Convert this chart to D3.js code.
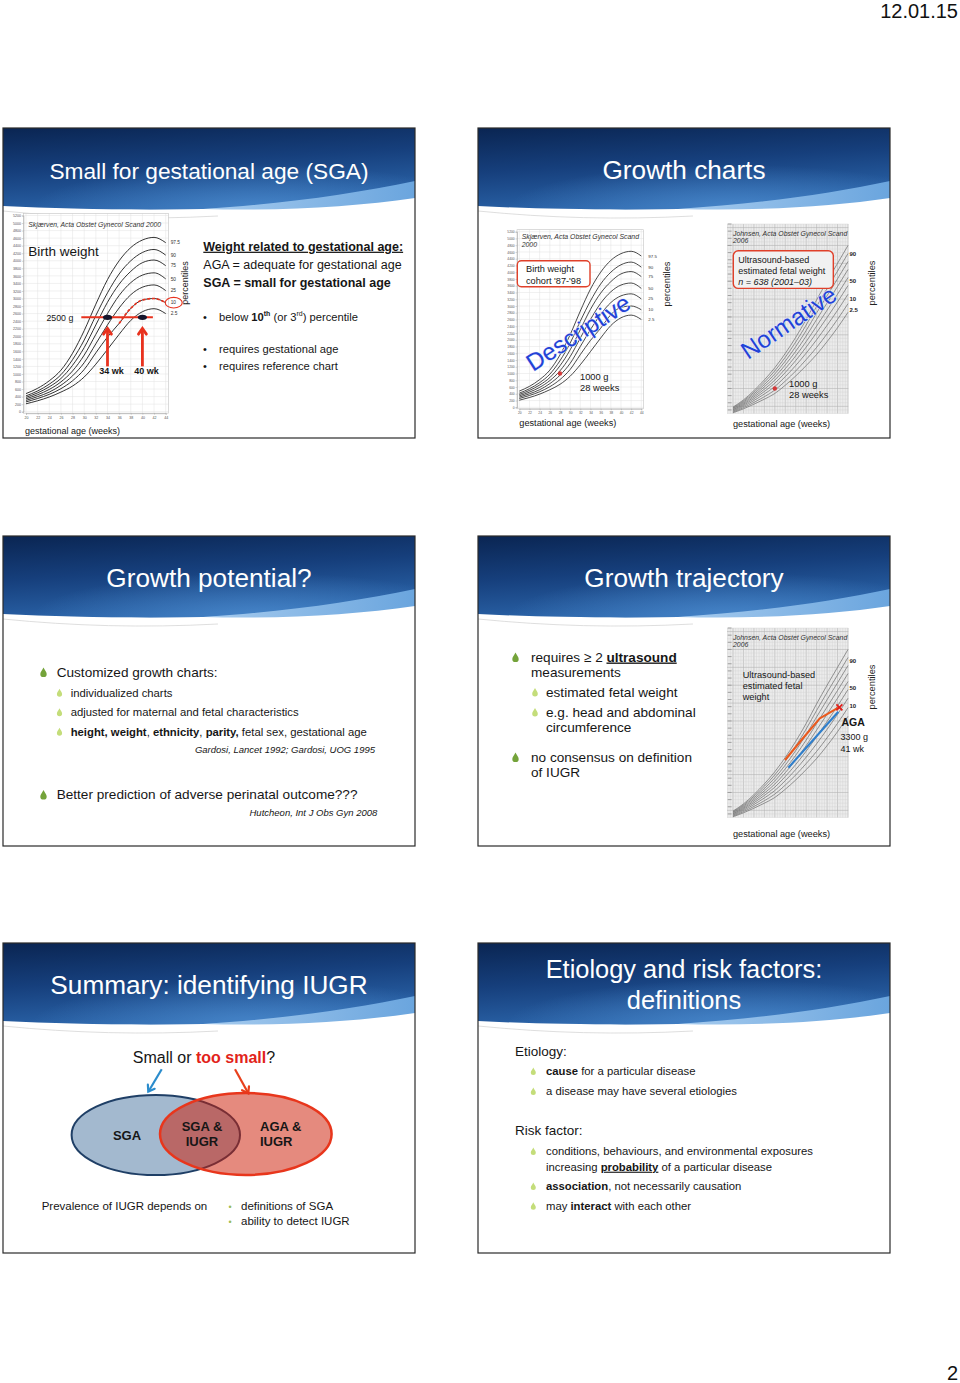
<!DOCTYPE html>
<html><head><meta charset="utf-8">
<script src="https://cdn.jsdelivr.net/npm/d3@7"></script>
<style>
html,body{margin:0;padding:0;background:#fff;}
svg{display:block;font-family:"Liberation Sans",Arial,sans-serif;}
text{white-space:pre;}
</style></head><body>
<svg id="page" width="960" height="1383"></svg>
<script>
// ---------------- DATA ----------------
const slideTitles = [["Small for gestational age (SGA)"],["Growth charts"],["Growth potential?"],["Growth trajectory"],["Summary: identifying IUGR"],["Etiology and risk factors:","definitions"]];
const titleSizes = [22.7, 26.2, 26.2, 26.2, 26.2, 25.4];

// Skjaerven birth-weight percentiles (g) by gestational week
const bwWeeks = [20,22,24,26,28,30,32,34,36,38,40,42,44];
const bwP975 = [480,620,820,1100,1550,2150,2850,3500,4000,4350,4550,4620,4480];
const bwP90  = [420,550,730,980,1380,1900,2550,3150,3650,4000,4220,4300,4150];
const bwP75  = [380,500,660,880,1230,1700,2300,2900,3380,3720,3950,4020,3870];
const bwP50  = [340,450,590,790,1080,1500,2050,2600,3080,3420,3620,3680,3520];
const bwP25  = [300,400,520,700,950,1300,1800,2300,2750,3100,3300,3360,3210];
const bwP10  = [260,350,460,610,820,1120,1560,1980,2340,2740,2960,3000,2890];
const bwP025 = [210,290,390,520,680,920,1260,1650,2050,2420,2650,2730,2600];
const bwPercentileLabels = ["97.5","90","75","50","25","10","2.5"];
const bwYTicks = [0,200,400,600,800,1000,1200,1400,1600,1800,2000,2200,2400,2600,2800,3000,3200,3400,3600,3800,4000,4200,4400,4600,4800,5000,5200];
const bwXTicks = [20,22,24,26,28,30,32,34,36,38,40,42,44];
const sgaWeight = 2500;
const sgaWeeks = [34, 40];
const sgaLineWeeks = [29.5, 41.8];
const p10HighlightFrom = 36;

// Johnsen ultrasound estimated fetal weight percentiles (g)
const efwWeeks = [20,22,24,26,28,30,32,34,36,38,40,42];
const efwP975 = [480,680,940,1240,1580,1980,2430,2930,3480,4000,4500,5000];
const efwP95  = [461,650,894,1175,1494,1873,2300,2775,3296,3797,4284,4776];
const efwP90  = [442,620,849,1110,1407,1766,2171,2620,3113,3594,4068,4551];
const efwP75  = [422,590,803,1046,1321,1660,2041,2466,2929,3392,3852,4327];
const efwP50  = [403,560,758,981,1234,1553,1912,2311,2746,3189,3636,4102];
const efwP25  = [384,530,712,916,1148,1446,1782,2156,2562,2986,3420,3878];
const efwP10  = [363,498,663,846,1054,1330,1642,1988,2363,2766,3186,3635];
const efwP5   = [341,463,609,770,954,1206,1490,1808,2149,2530,2934,3373];
const efwP025 = [320,430,560,700,860,1090,1350,1640,1950,2310,2700,3130];
const efwLabelText = ["90","50","10","2.5"];
const efwLabelWeight = [4775,4000,3500,3190];
const exampleWeek = 28, exampleWeight = 1000;

// growth trajectories (slide 4)
const trajOrangeWeeks = [29.95,33.1,36.6,40.15];
const trajOrangeEFW   = [1908,2467,3074,3371];
const trajBlueWeeks   = [30.6,40.15];
const trajBlueEFW     = [1693,3259];
const agaWeek = 40.35, agaWeight = 3382;

// ---------------- SETUP ----------------
const svg = d3.select("#page");
const defs = svg.append("defs");
const lg = defs.append("linearGradient").attr("id","hdrGrad").attr("x1","0").attr("y1","0").attr("x2","0.3").attr("y2","1");
lg.append("stop").attr("offset","0").attr("stop-color","#0a2552");
lg.append("stop").attr("offset","0.5").attr("stop-color","#163f7c");
lg.append("stop").attr("offset","1").attr("stop-color","#2a63a8");
const rg = defs.append("radialGradient").attr("id","hdrGlow").attr("cx","0.62").attr("cy","1").attr("r","0.55");
rg.append("stop").attr("offset","0").attr("stop-color","#4f8fd2").attr("stop-opacity",0.75);
rg.append("stop").attr("offset","1").attr("stop-color","#4f8fd2").attr("stop-opacity",0);
const sg = defs.append("linearGradient").attr("id","swoosh").attr("x1","1").attr("y1","0").attr("x2","0").attr("y2","0");
sg.append("stop").attr("offset","0").attr("stop-color","#6aa5de");
sg.append("stop").attr("offset","1").attr("stop-color","#a6cbee");

const slidePos = [[3,128],[478,128],[3,536],[478,536],[3,943],[478,943]];
const W = 412, H = 310;

slidePos.forEach(([sx,sy],i) => {
  const g = svg.append("g").attr("transform",`translate(${sx},${sy})`);
  g.append("rect").attr("width",W).attr("height",H).attr("fill","#fff");
  const hdr = `M0,0H${W}V57C350,70 280,79 200,81C130,82 60,81 0,78Z`;
  g.append("path").attr("d",hdr).attr("fill","url(#hdrGrad)");
  g.append("path").attr("d",hdr).attr("fill","url(#hdrGlow)");
  g.append("path").attr("d",`M${W},53C350,66 280,76 200,81C280,83 350,79 ${W},70Z`).attr("fill","url(#swoosh)");
  g.append("path").attr("d","M0,83C70,90 140,92 215,88").attr("fill","none").attr("stroke","#d6d6d6").attr("stroke-width",0.8);
  const lines = slideTitles[i];
  const base = lines.length === 1 ? [51] : [35, 66];
  lines.forEach((t,j) => g.append("text").attr("x",W/2).attr("y",base[j]).attr("text-anchor","middle")
    .attr("font-size",titleSizes[i]).attr("fill","#ffffff").text(t));
});

// ---------------- HELPERS ----------------
function rich(x, y, parts, size, o = {}) {
  const t = svg.append("text").attr("x", x).attr("y", y).attr("font-size", size).attr("fill", o.fill || "#161616");
  if (o.anchor) t.attr("text-anchor", o.anchor);
  if (o.italic) t.attr("font-style", "italic");
  if (o.weight) t.attr("font-weight", o.weight);
  let shifted = 0;
  parts.forEach(p => {
    const str = typeof p === "string" ? p : p[0];
    const st = typeof p === "string" ? "" : p[1];
    const ts = t.append("tspan").text(str);
    let want = 0;
    if (st.includes("b")) ts.attr("font-weight", "bold");
    if (st.includes("u")) ts.attr("text-decoration", "underline");
    if (st.includes("r")) ts.attr("fill", "#e2231a");
    if (st.includes("i")) ts.attr("font-style", "italic");
    if (st.includes("s")) { ts.attr("font-size", size * 0.62); want = -size * 0.38; }
    if (want !== shifted) { ts.attr("dy", want - shifted); shifted = want; }
  });
  return t;
}
function drop(x, cy, r, color) {
  const y = cy + r * 0.2;
  svg.append("path").attr("d",
    `M${x},${y-r*1.6}C${x+r*0.35},${y-r*0.8} ${x+r},${y-r*0.2} ${x+r},${y+r*0.4}A${r},${r} 0 0 1 ${x-r},${y+r*0.4}C${x-r},${y-r*0.2} ${x-r*0.35},${y-r*0.8} ${x},${y-r*1.6}Z`)
    .attr("fill", color);
}
function arrow(x1, y1, x2, y2, color, w, head) {
  const a = Math.atan2(y2 - y1, x2 - x1);
  svg.append("line").attr("x1",x1).attr("y1",y1).attr("x2",x2).attr("y2",y2).attr("stroke",color).attr("stroke-width",w);
  const p1 = [x2 - head*Math.cos(a - 0.6), y2 - head*Math.sin(a - 0.6)];
  const p2 = [x2 - head*Math.cos(a + 0.6), y2 - head*Math.sin(a + 0.6)];
  svg.append("polyline").attr("points",`${p1} ${x2},${y2} ${p2}`).attr("fill","none").attr("stroke",color)
    .attr("stroke-width",w).attr("stroke-linejoin","miter").attr("stroke-linecap","round");
}
function rotLabel(x, cy, txt, size) {
  svg.append("text").attr("transform",`translate(${x},${cy}) rotate(-90)`).attr("text-anchor","middle")
    .attr("dy","0.35em").attr("font-size",size).attr("fill","#222").text(txt);
}
function styleAxis(a, fs) {
  a.attr("font-family","Liberation Sans, Arial, sans-serif").attr("font-size",fs);
  a.selectAll("text").attr("fill","#555");
  a.select(".domain").attr("stroke","#999").attr("stroke-width",0.5);
  a.selectAll(".tick line").attr("stroke","#999").attr("stroke-width",0.4);
}

const bwSeries = [bwP975,bwP90,bwP75,bwP50,bwP25,bwP10,bwP025];
function drawBirthWeight(o) {
  const x = d3.scaleLinear().domain([20,44]).range([o.xl,o.xr]);
  const y = d3.scaleLinear().domain([0,5200]).range([o.yb,o.yt]);
  const g = svg.append("g");
  const bx0 = x(19.55), bx1 = x(44.45), by0 = y(5200)-2, by1 = y(0)+1.5;
  g.append("rect").attr("x",bx0).attr("y",by0).attr("width",bx1-bx0).attr("height",by1-by0).attr("fill","#fff");
  g.append("g").selectAll("line").data(bwYTicks).join("line")
    .attr("x1",bx0).attr("x2",bx1).attr("y1",d=>y(d)).attr("y2",d=>y(d)).attr("stroke","#e2e2e2").attr("stroke-width",0.5);
  g.append("g").selectAll("line").data(bwXTicks).join("line")
    .attr("y1",by0).attr("y2",by1).attr("x1",d=>x(d)).attr("x2",d=>x(d)).attr("stroke","#e2e2e2").attr("stroke-width",0.5);
  g.append("rect").attr("x",bx0).attr("y",by0).attr("width",bx1-bx0).attr("height",by1-by0).attr("fill","none").attr("stroke","#c4c4c4").attr("stroke-width",0.6);
  const ay = g.append("g").attr("transform",`translate(${bx0},0)`)
    .call(d3.axisLeft(y).tickValues(bwYTicks).tickFormat(d3.format("d")).tickSize(1.5).tickPadding(0.8));
  const ax = g.append("g").attr("transform",`translate(0,${by1})`)
    .call(d3.axisBottom(x).tickValues(bwXTicks).tickFormat(d3.format("d")).tickSize(1.5).tickPadding(1.5));
  styleAxis(ay, o.tick); styleAxis(ax, o.tick);
  const line = d3.line().x((d,i)=>x(bwWeeks[i])).y(d=>y(d)).curve(d3.curveMonotoneX);
  bwSeries.forEach(s => g.append("path").attr("d",line(s)).attr("fill","none").attr("stroke","#1c1c1c").attr("stroke-width",o.lw));
  g.selectAll(null).data(bwSeries).join("text").attr("x",x(44)+o.labDx).attr("y",d=>y(d[d.length-1])).attr("dy","0.35em")
    .attr("font-size",o.lab).attr("fill","#333").text((d,i)=>bwPercentileLabels[i]);
  return {x,y};
}

const efwSeries = [efwP975,efwP95,efwP90,efwP75,efwP50,efwP25,efwP10,efwP5,efwP025];
function drawJohnsen(top, labDy, nLabels) {
  const x = d3.scaleLinear().domain([20,42]).range([733,848]);
  const y = d3.scaleLinear().domain([300,5600]).range([top+189.5, top]);
  const g = svg.append("g");
  const X0 = 727, X1 = 848.3;
  g.append("rect").attr("x",X0).attr("y",top).attr("width",X1-X0).attr("height",189.5).attr("fill","#ececec");
  const vw = d3.range(19,42.01,0.5), hw = d3.range(300,5601,100);
  g.append("g").selectAll("line").data(vw).join("line").attr("x1",d=>x(d)).attr("x2",d=>x(d)).attr("y1",top).attr("y2",top+189.5)
    .attr("stroke",d=>d%2===0?"#b4b4b4":"#cfcfcf").attr("stroke-width",d=>d%2===0?0.6:0.4);
  g.append("g").selectAll("line").data(hw).join("line").attr("x1",X0).attr("x2",X1).attr("y1",d=>y(d)).attr("y2",d=>y(d))
    .attr("stroke",d=>d%500===0?"#b4b4b4":"#d2d2d2").attr("stroke-width",d=>d%500===0?0.6:0.4);
  g.append("g").selectAll("line").data(d3.range(400,5601,200)).join("line").attr("x1",X0+0.8).attr("x2",X0+4.5)
    .attr("y1",d=>y(d)).attr("y2",d=>y(d)).attr("stroke","#9a9a9a").attr("stroke-width",0.9);
  const line = d3.line().x((d,i)=>x(efwWeeks[i])).y(d=>y(d)).curve(d3.curveMonotoneX);
  efwSeries.forEach(s => g.append("path").attr("d",line(s)).attr("fill","none").attr("stroke","#737373").attr("stroke-width",0.75));
  g.selectAll(null).data(efwLabelWeight.slice(0,nLabels)).join("text").attr("x",849.5).attr("y",d=>y(d)+labDy).attr("dy","0.35em")
    .attr("font-size",6).attr("font-weight","bold").attr("fill","#222").text((d,i)=>efwLabelText[i]);
  rich(733, top+11.5, ["Johnsen, Acta Obstet Gynecol Scand"], 6.9, {italic:true, fill:"#333"});
  rich(733, top+19, ["2006"], 6.9, {italic:true, fill:"#333"});
  return {x,y};
}

// ---------------- SLIDE 1 ----------------
const c1 = drawBirthWeight({xl:26, xr:165.7, yb:411.7, yt:215.5, tick:3.6, lab:4.8, labDx:5, lw:0.9});
rich(28.3, 226.5, ["Skjærven, Acta Obstet Gynecol Scand 2000"], 6.8, {italic:true, fill:"#333"});
rich(28.3, 255.5, ["Birth weight"], 13.5);
{
  const idx = bwWeeks.map((w,i)=>i).filter(i=>bwWeeks[i] >= p10HighlightFrom);
  const pts = idx.map(i=>[bwWeeks[i], bwP10[i]]);
  svg.append("path").attr("d", d3.line().x(d=>c1.x(d[0])).y(d=>c1.y(d[1])).curve(d3.curveMonotoneX)(pts))
    .attr("fill","none").attr("stroke","#e8321e").attr("stroke-width",1.7).attr("stroke-dasharray","3,1.8");
  svg.append("ellipse").attr("cx",c1.x(44)+8).attr("cy",c1.y(bwP10[bwP10.length-1])).attr("rx",8.5).attr("ry",5.3)
    .attr("fill","none").attr("stroke","#e8321e").attr("stroke-width",1.1);
  const yy = c1.y(sgaWeight);
  svg.append("line").attr("x1",c1.x(sgaLineWeeks[0])).attr("x2",c1.x(sgaLineWeeks[1])).attr("y1",yy).attr("y2",yy)
    .attr("stroke","#e8321e").attr("stroke-width",2);
  sgaWeeks.forEach(w => {
    svg.append("ellipse").attr("cx",c1.x(w)).attr("cy",yy).attr("rx",4.5).attr("ry",2.6).attr("fill","#15152c");
    arrow(c1.x(w), yy+49, c1.x(w), yy+11, "#e8321e", 2.8, 7);
    rich(c1.x(w)+4, yy+56.5, [w+" wk"], 9, {anchor:"middle", weight:"bold"});
  });
  rich(73.3, yy+3.2, ["2500 g"], 8.8, {anchor:"end"});
}
rotLabel(185, 283, "percentiles", 9);
rich(25, 433.5, ["gestational age (weeks)"], 9);

rich(203.3, 250.7, [["Weight related to gestational age:","bu"]], 12.5);
rich(203.3, 268.5, ["AGA = adequate for gestational age"], 12.5);
rich(203.3, 286.5, [["SGA = small for gestational age","b"]], 12.5);
rich(203, 320.5, ["•"], 11);
rich(219, 320.5, ["below ",["10","b"],["th","bs"]," (or 3",["rd","s"],") percentile"], 11.2);
rich(203, 353.3, ["•"], 11);
rich(219, 353.3, ["requires gestational age"], 11.2);
rich(203, 370, ["•"], 11);
rich(219, 370, ["requires reference chart"], 11.2);

// ---------------- SLIDE 2 ----------------
const c2 = drawBirthWeight({xl:519.3, xr:641.3, yb:407.3, yt:231.7, tick:3.3, lab:4.4, labDx:7, lw:0.8});
rich(521.7, 239, ["Skjærven, Acta Obstet Gynecol Scand"], 6.9, {italic:true, fill:"#333"});
rich(521.7, 246.5, ["2000"], 6.9, {italic:true, fill:"#333"});
svg.append("rect").attr("x",517.3).attr("y",260.7).attr("width",72.7).attr("height",26).attr("rx",4)
  .attr("fill","#fff").attr("stroke","#e0402a").attr("stroke-width",1.4);
rich(526, 271.5, ["Birth weight"], 9.2);
rich(526, 284, ["cohort '87-'98"], 9.2);
svg.append("circle").attr("cx",c2.x(exampleWeek)).attr("cy",c2.y(exampleWeight)).attr("r",2.2).attr("fill","#d23a3a");
rich(580, 379.5, ["1000 g"], 9.3);
rich(580, 390.8, ["28 weeks"], 9.3);
svg.append("text").attr("transform","translate(533,372) rotate(-33)").attr("font-size",24).attr("fill","#2242d6")
  .attr("stroke","#dfe6ff").attr("stroke-width",0.9).attr("paint-order","stroke").text("Descriptive");
rotLabel(666.7, 284, "percentiles", 9.3);
rich(519.3, 425.5, ["gestational age (weeks)"], 9.2);

const j2 = drawJohnsen(224, 0, 4);
svg.append("rect").attr("x",733.3).attr("y",250.7).attr("width",100).attr("height",37.7).attr("rx",5)
  .attr("fill","#f1f1f1").attr("stroke","#e0402a").attr("stroke-width",1.4);
rich(738.3, 262.5, ["Ultrasound-based"], 9);
rich(738.3, 274, ["estimated fetal weight"], 9);
rich(738.3, 285, ["n = 638 (2001–03)"], 9, {italic:true});
svg.append("circle").attr("cx",j2.x(exampleWeek)).attr("cy",j2.y(exampleWeight)).attr("r",2.2).attr("fill","#d23a3a");
rich(789, 386.5, ["1000 g"], 9.3);
rich(789, 397.5, ["28 weeks"], 9.3);
svg.append("text").attr("transform","translate(748,360) rotate(-34)").attr("font-size",24).attr("fill","#2242d6")
  .attr("stroke","#dfe6ff").attr("stroke-width",0.9).attr("paint-order","stroke").text("Normative");
rotLabel(871.5, 283, "percentiles", 9.3);
rich(733, 427, ["gestational age (weeks)"], 9.2);

// ---------------- SLIDE 3 ----------------
drop(43.5, 672, 3.2, "#74a33a");
rich(56.7, 676.5, ["Customized growth charts:"], 13.6);
[[696.5,["individualized charts"]],[716,["adjusted for maternal and fetal characteristics"]],
 [735.5,[["height, weight","b"],", ",["ethnicity","b"],", ",["parity,","b"]," fetal sex, gestational age"]]].forEach(([yy,parts])=>{
  drop(59.5, yy-4, 2.6, "#c4dd7a");
  rich(70.7, yy, parts, 11.3);
});
rich(375, 752.5, ["Gardosi, Lancet 1992; Gardosi, UOG 1995"], 9.5, {anchor:"end", italic:true});
drop(43.5, 794.5, 3.2, "#74a33a");
rich(56.7, 799, ["Better prediction of adverse perinatal outcome???"], 13.6);
rich(377.3, 816, ["Hutcheon, Int J Obs Gyn 2008"], 9.5, {anchor:"end", italic:true});

// ---------------- SLIDE 4 ----------------
drop(515.5, 657, 3.2, "#74a33a");
rich(531, 661.5, ["requires ≥ 2 ",["ultrasound","bu"]], 13.6);
rich(531, 676.5, ["measurements"], 13.6);
drop(535, 692, 2.8, "#c4dd7a");
rich(546, 696.5, ["estimated fetal weight"], 13.6);
drop(535, 712, 2.8, "#c4dd7a");
rich(546, 716.5, ["e.g. head and abdominal"], 13.6);
rich(546, 732, ["circumference"], 13.6);
drop(515.5, 757, 3.2, "#74a33a");
rich(531, 761.5, ["no consensus on definition"], 13.6);
rich(531, 776.5, ["of IUGR"], 13.6);

const j4 = drawJohnsen(628, 3, 3);
rich(742.7, 678, ["Ultrasound-based"], 9.2);
rich(742.7, 689, ["estimated fetal"], 9.2);
rich(742.7, 700, ["weight"], 9.2);
{
  const lo = d3.line().x((d,i)=>j4.x(trajOrangeWeeks[i])).y(d=>j4.y(d));
  svg.append("path").attr("d",lo(trajOrangeEFW)).attr("fill","none").attr("stroke","#ea5a1e").attr("stroke-width",2.1).attr("stroke-linejoin","round");
  const lb = d3.line().x((d,i)=>j4.x(trajBlueWeeks[i])).y(d=>j4.y(d));
  svg.append("path").attr("d",lb(trajBlueEFW)).attr("fill","none").attr("stroke","#2f7fcc").attr("stroke-width",2.1);
  const ax = j4.x(agaWeek), ay = j4.y(agaWeight), s = 3;
  svg.append("path").attr("d",`M${ax-s},${ay-s}L${ax+s},${ay+s}M${ax-s},${ay+s}L${ax+s},${ay-s}`).attr("stroke","#e0201c").attr("stroke-width",1.8);
}
rich(841.5, 726, ["AGA"], 10.5, {weight:"bold"});
rich(840.5, 739.8, ["3300 g"], 9);
rich(840.5, 751.8, ["41 wk"], 9);
rotLabel(871.7, 687, "percentiles", 9.3);
rich(733, 836.5, ["gestational age (weeks)"], 9.2);

// ---------------- SLIDE 5 ----------------
rich(204, 1062.7, ["Small or ",["too small","br"],"?"], 16, {anchor:"middle"});
arrow(161.7, 1069.3, 148.3, 1091.7, "#2b8ccc", 2.2, 7);
arrow(235, 1069.3, 248.3, 1093.3, "#e8401c", 2.2, 7);
svg.append("ellipse").attr("cx",155.8).attr("cy",1135).attr("rx",84.2).attr("ry",40)
  .attr("fill","#a3b9cf").attr("stroke","#1f3f66").attr("stroke-width",2);
svg.append("ellipse").attr("cx",245.8).attr("cy",1134).attr("rx",85.8).attr("ry",41)
  .attr("fill","#cd1e07").attr("fill-opacity",0.52).attr("stroke","#e8361c").attr("stroke-width",2.5);
rich(127, 1139.5, ["SGA"], 13, {anchor:"middle", weight:"bold"});
rich(202, 1131, ["SGA &"], 13, {anchor:"middle", weight:"bold"});
rich(202, 1146, ["IUGR"], 13, {anchor:"middle", weight:"bold"});
rich(260, 1131, ["AGA &"], 13, {weight:"bold"});
rich(260, 1146, ["IUGR"], 13, {weight:"bold"});
rich(41.7, 1209.5, ["Prevalence of IUGR depends on"], 11.5);
rich(228.5, 1209.5, ["•"], 9, {fill:"#9bbb59"});
rich(241, 1209.5, ["definitions of SGA"], 11.5);
rich(228.5, 1225, ["•"], 9, {fill:"#9bbb59"});
rich(241, 1225, ["ability to detect IUGR"], 11.5);

// ---------------- SLIDE 6 ----------------
rich(515, 1056, ["Etiology:"], 13.5);
[[1075,[["cause","b"]," for a particular disease"]],[1095,["a disease may have several etiologies"]]].forEach(([yy,parts])=>{
  drop(533.3, yy-4, 2.5, "#c4dd7a"); rich(546, yy, parts, 11.3);
});
rich(515, 1135, ["Risk factor:"], 13.5);
drop(533.3, 1151, 2.5, "#c4dd7a");
rich(546, 1155, ["conditions, behaviours, and environmental exposures"], 11.3);
rich(546, 1170.7, ["increasing ",["probability","bu"]," of a particular disease"], 11.3);
drop(533.3, 1186, 2.5, "#c4dd7a");
rich(546, 1190, [["association","b"],", not necessarily causation"], 11.3);
drop(533.3, 1205.7, 2.5, "#c4dd7a");
rich(546, 1209.7, ["may ",["interact","b"]," with each other"], 11.3);

// ---------------- FRAMES & PAGE TEXT ----------------
slidePos.forEach(([sx,sy]) => svg.append("rect").attr("x",sx).attr("y",sy).attr("width",W).attr("height",H)
  .attr("fill","none").attr("stroke","#2a2a2a").attr("stroke-width",1.2));
svg.append("text").attr("x",958).attr("y",18).attr("text-anchor","end").attr("font-size",20).attr("fill","#111").text("12.01.15");
svg.append("text").attr("x",958).attr("y",1380).attr("text-anchor","end").attr("font-size",20).attr("fill","#111").text("2");
</script>
</body></html>
